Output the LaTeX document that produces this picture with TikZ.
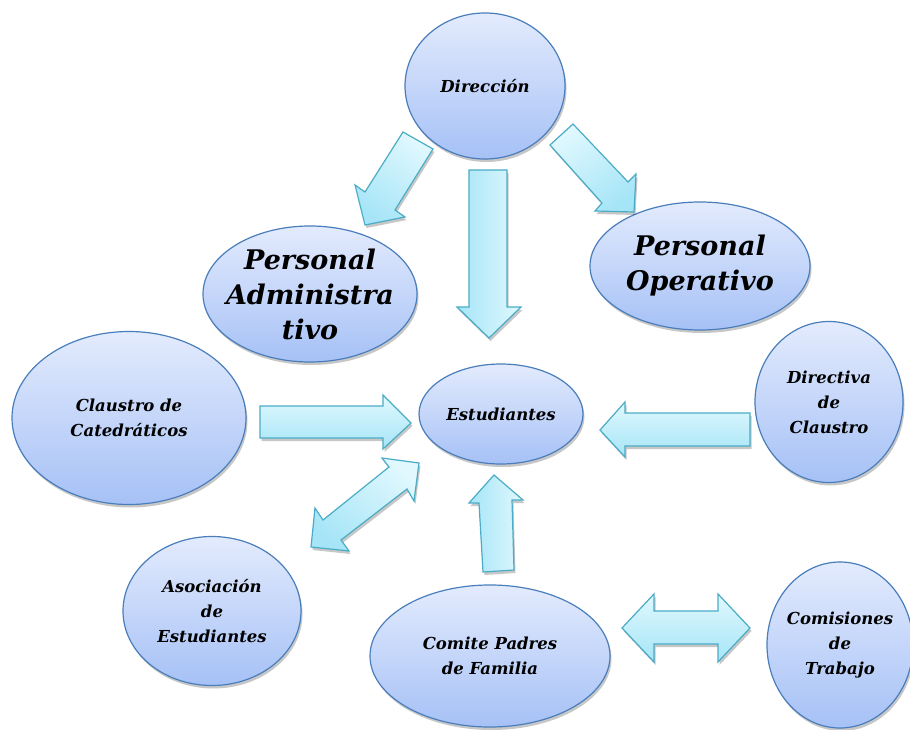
\documentclass[tikz,border=0pt]{standalone}
\usepackage{fontspec}
\newfontfamily\scriptlike{DejaVu Serif}
\usetikzlibrary{shapes.geometric,shadows}
\definecolor{ellborder}{HTML}{4A7EBB}
\definecolor{elltop}{HTML}{E3EBFD}
\definecolor{ellbot}{HTML}{A6C1F6}
\definecolor{arrborder}{HTML}{4BACC6}
\definecolor{arrlight}{HTML}{E0F8FE}
\definecolor{arrdark}{HTML}{A6E5F7}
\tikzset{
  ell/.style={ellipse, draw=ellborder, line width=1.2pt, top color=elltop, bottom color=ellbot,
    inner sep=-40pt, align=center, text=black,
    font=\scriptlike\bfseries\itshape\fontsize{16.5}{25}\selectfont,
    drop shadow={fill=black, opacity=0.22, shadow xshift=1.5pt, shadow yshift=-3pt}},
  bigtxt/.style={font=\scriptlike\bfseries\itshape\fontsize{27}{35}\selectfont},
  blockarrow/.style={draw=arrborder, line width=1.2pt, line join=miter,
    top color=arrlight, bottom color=arrdark,
    drop shadow={fill=black, opacity=0.22, shadow xshift=1.5pt, shadow yshift=-3pt}}
}
\begin{document}
\begin{tikzpicture}[x=1pt,y=-1pt]
\useasboundingbox (0,0) rectangle (910,730);
% ellipses
\node[ell, minimum width=160pt, minimum height=146pt] (dir) at (485,86) {Dirección};
\node[ell, bigtxt, minimum width=214pt, minimum height=136pt] (padm) at (310,294) {Personal\\Administra\\tivo};
\node[ell, bigtxt, minimum width=220pt, minimum height=128pt] (pope) at (700,266) {Personal\\Operativo};
\node[ell, minimum width=234pt, minimum height=173pt] (clau) at (129,418) {Claustro de\\Catedráticos};
\node[ell, minimum width=164pt, minimum height=100pt] (est) at (501,414) {Estudiantes};
\node[ell, minimum width=148pt, minimum height=161pt] (dclau) at (829,402) {Directiva\\de\\Claustro};
\node[ell, minimum width=178pt, minimum height=149pt] (asoc) at (212,611) {Asociación\\de\\Estudiantes};
\node[ell, minimum width=240pt, minimum height=142pt] (comi) at (490,656) {Comite Padres\\de Familia};
\node[ell, minimum width=146pt, minimum height=166pt] (comis) at (840,645) {Comisiones\\de\\Trabajo};
% block arrows
\path[blockarrow, shading angle=-35] (403,132) -- (433,149) -- (395,210) -- (405,217) -- (365,225) -- (355,185) -- (365,192) -- cycle;
\path[blockarrow, left color=arrdark, right color=arrlight] (469,170) -- (507,170) -- (507,307) -- (521,307) -- (489,338) -- (457,307) -- (469,307) -- cycle;
\path[blockarrow, shading angle=35] (550,145) -- (573,124) -- (628,182) -- (636,174) -- (634,212) -- (595,211) -- (602,203) -- cycle;
\path[blockarrow] (260,406) -- (383,406) -- (383,395) -- (411,423) -- (383,449) -- (383,438) -- (260,438) -- cycle;
\path[blockarrow] (750,413) -- (625,413) -- (625,402) -- (600,430) -- (625,457) -- (625,446) -- (750,446) -- cycle;
\path[blockarrow, shading angle=-40] (419,463) -- (382,458) -- (389,467) -- (323,520) -- (315,508) -- (311,547) -- (349,551) -- (341,540) -- (407,489) -- (414,501) -- cycle;
\path[blockarrow, left color=arrdark, right color=arrlight] (494,475) -- (523,500) -- (512,500) -- (514,570) -- (483,572) -- (479,503) -- (469,503) -- cycle;
\path[blockarrow] (622,628) -- (654,594) -- (654,611) -- (718,611) -- (718,594) -- (750,628) -- (718,662) -- (718,644) -- (654,644) -- (654,662) -- cycle;
\end{tikzpicture}
\end{document}
